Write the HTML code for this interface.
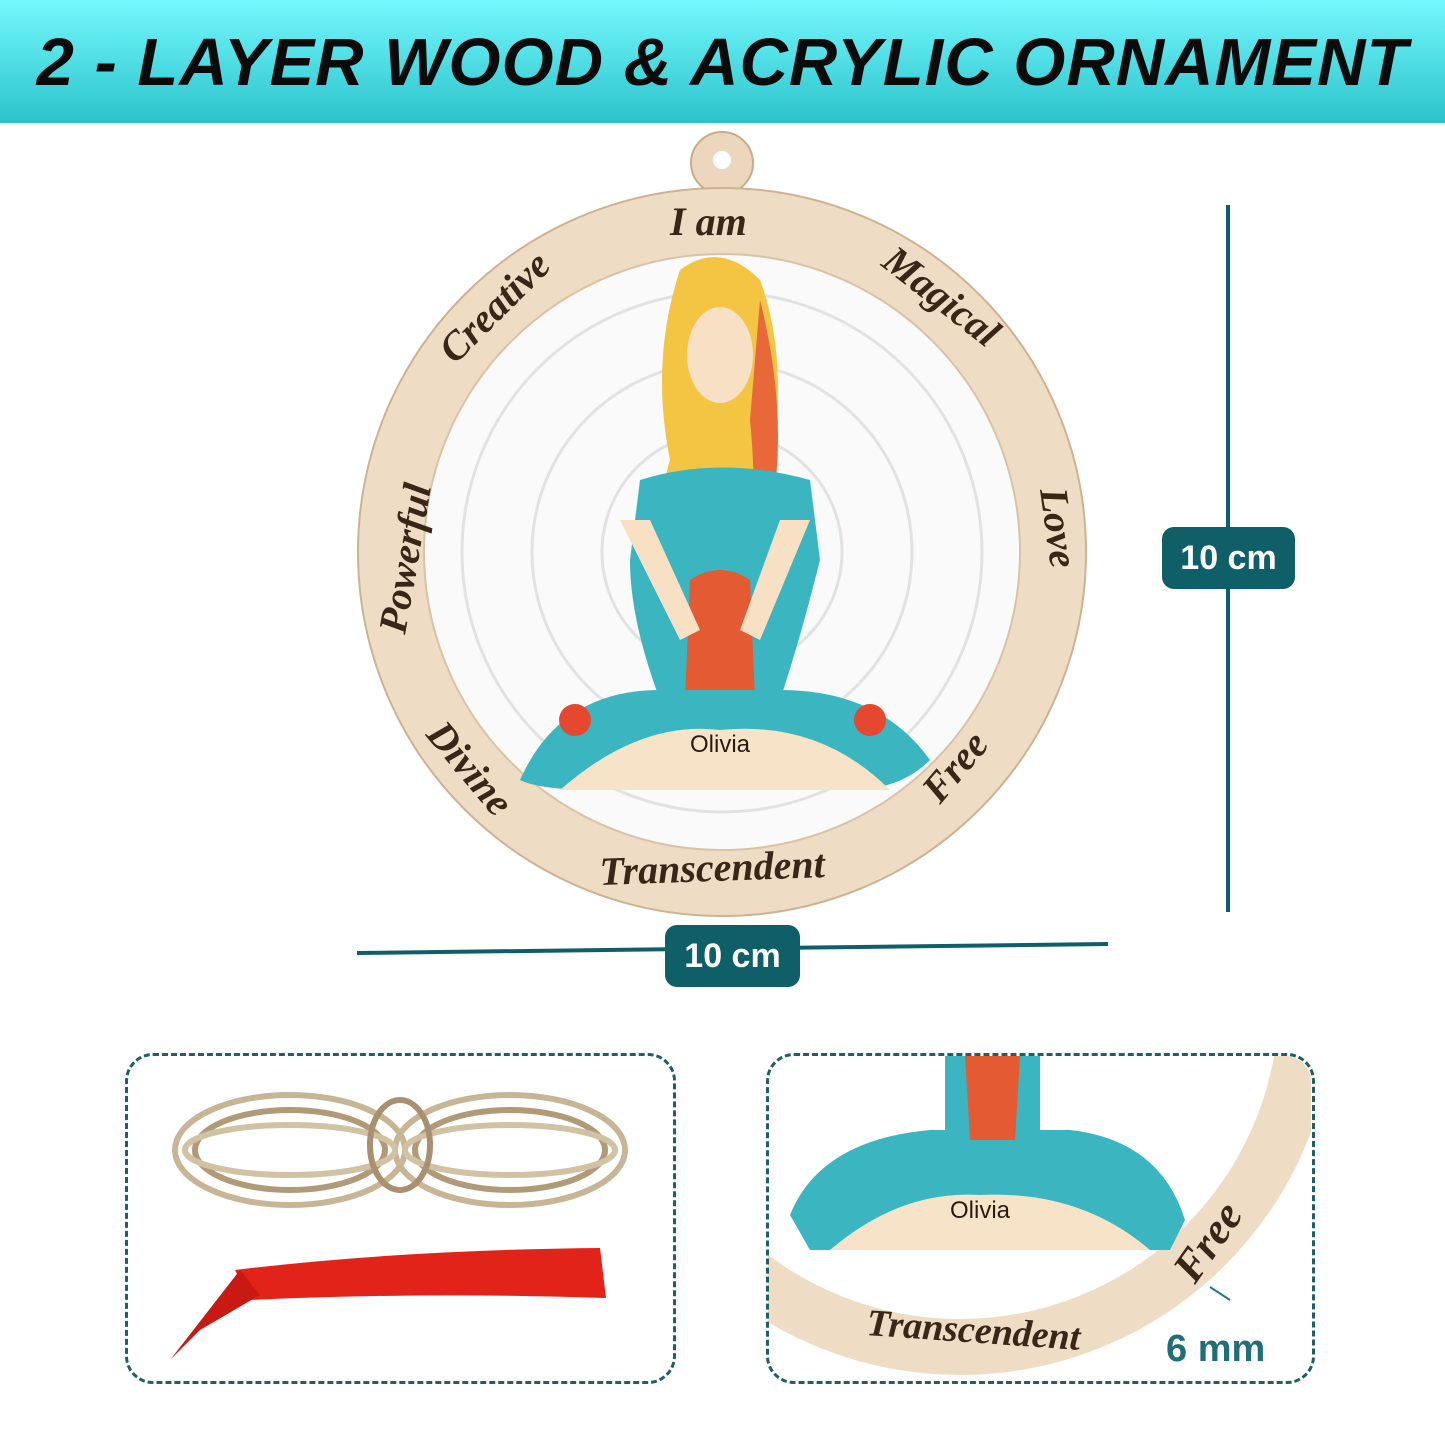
<!DOCTYPE html>
<html><head><meta charset="utf-8"><style>
html,body{margin:0;padding:0;width:1445px;height:1445px;overflow:hidden;background:#fff;font-family:"Liberation Sans",sans-serif}
.hdr{position:absolute;left:0;top:0;width:1445px;height:123px;background:linear-gradient(#74f8fd,#2bc3cb)}
.hdr div{position:absolute;left:0;width:1445px;top:24px;text-align:center;font-size:67px;font-weight:bold;font-style:italic;color:#0b0b0b;letter-spacing:1px}
.lbl{position:absolute;background:#0f5f68;color:#fff;font-weight:bold;font-size:34px;border-radius:12px;text-align:center}
.box{position:absolute;border:3px dashed #1f5f66;border-radius:28px}
</style></head><body>
<div class="hdr"><div>2 - LAYER WOOD &amp; ACRYLIC ORNAMENT</div></div>
<svg width="1445" height="1445" style="position:absolute;left:0;top:0">
<defs>
<clipPath id="rb"><rect x="768" y="1056" width="543" height="325" rx="26"/></clipPath>
</defs>
<circle cx="722" cy="163" r="31" fill="#ecd6bd" stroke="#c9ab8c" stroke-width="2"/>
<circle cx="722" cy="160" r="9" fill="#fff"/>
<circle cx="722" cy="552" r="364" fill="#efdcc5" stroke="#cdb293" stroke-width="2"/>
<circle cx="722" cy="552" r="298" fill="#fafafa" stroke="#d9c2a6" stroke-width="2"/>
<g fill="none" stroke="#e2e2e2" stroke-width="3">
<circle cx="722" cy="552" r="120"/><circle cx="722" cy="552" r="190"/><circle cx="722" cy="552" r="260"/>
<circle cx="722" cy="552" r="60"/>
</g>
<g font-family="Liberation Serif,serif" font-style="italic" font-weight="bold" font-size="40" fill="#3a2516">
<text x="670" y="235">I am</text>
<text transform="translate(880,265) rotate(38)">Magical</text>
<text transform="translate(1040,490) rotate(82)">Love</text>
<text transform="translate(940,805) rotate(-50)">Free</text>
<text transform="translate(600,885) rotate(-2)">Transcendent</text>
<text transform="translate(425,735) rotate(50)">Divine</text>
<text transform="translate(405,635) rotate(-80)">Powerful</text>
<text transform="translate(455,365) rotate(-45)">Creative</text>
</g>
<path d="M680,270 Q720,240 760,280 Q790,360 770,480 Q790,560 780,650 L700,650 Q650,520 670,460 Q650,360 680,270Z" fill="#f4c443"/>
<path d="M760,300 Q790,420 770,520 Q775,600 770,660 L745,660 Q760,520 750,420Z" fill="#e8683a"/>
<ellipse cx="720" cy="355" rx="33" ry="48" fill="#f7e0c4"/>
<path d="M640,480 Q720,455 810,480 L820,560 Q800,640 780,700 L660,700 Q630,620 630,560Z" fill="#3bb6c1"/>
<path d="M690,580 Q720,560 750,580 L755,700 L685,700Z" fill="#e45a32"/>
<path d="M620,520 L650,520 L700,630 L680,640Z" fill="#f7e0c4"/>
<path d="M810,520 L780,520 L740,630 L760,640Z" fill="#f7e0c4"/>
<path d="M520,780 Q560,690 660,690 L780,690 Q880,690 930,760 Q900,790 850,790 L600,790 Q540,790 520,780Z" fill="#3bb6c1"/>
<path d="M560,790 Q640,720 720,730 Q820,720 890,790Z" fill="#f7e3c8"/>
<circle cx="575" cy="720" r="16" fill="#e5482e"/><circle cx="870" cy="720" r="16" fill="#e5482e"/>
<text x="690" y="752" font-family="Liberation Sans,sans-serif" font-size="24" fill="#2a1a10">Olivia</text>
<line x1="1228" y1="205" x2="1228" y2="912" stroke="#0f5f68" stroke-width="4"/>
<line x1="357" y1="953" x2="1108" y2="944" stroke="#0f5f68" stroke-width="4"/>
<g fill="none" stroke="#c8b596" stroke-width="6">
<ellipse cx="290" cy="1150" rx="115" ry="55"/><ellipse cx="510" cy="1150" rx="115" ry="55"/>
<ellipse cx="290" cy="1150" rx="95" ry="40" stroke="#b09a78"/><ellipse cx="510" cy="1150" rx="95" ry="40" stroke="#b09a78"/>
<ellipse cx="290" cy="1150" rx="105" ry="25" stroke="#d2c2a4"/><ellipse cx="510" cy="1150" rx="105" ry="25" stroke="#d2c2a4"/>
<ellipse cx="400" cy="1145" rx="30" ry="45" stroke="#a89070"/>
</g>
<path d="M235,1270 Q400,1250 600,1248 L606,1298 Q420,1292 250,1300Z" fill="#e2231a"/>
<path d="M240,1270 L170,1360 L200,1330 L260,1295Z" fill="#c81a12"/>
<g clip-path="url(#rb)">
<circle cx="960" cy="1000" r="347" fill="none" stroke="#efdcc5" stroke-width="56"/>
<path d="M790,1215 Q820,1140 930,1130 L1070,1130 Q1160,1140 1185,1220 L1170,1250 L810,1250Z" fill="#3bb6c1"/>
<path d="M830,1250 Q900,1190 980,1195 Q1080,1190 1150,1250Z" fill="#f7e3c8"/>
<path d="M945,1056 L1040,1056 L1040,1135 L945,1135Z" fill="#3bb6c1"/>
<path d="M965,1056 L1020,1056 L1015,1140 L970,1140Z" fill="#e45a32"/>
<text x="950" y="1218" font-family="Liberation Sans,sans-serif" font-size="24" fill="#2a1a10">Olivia</text>
<text transform="translate(866,1335) rotate(4)" font-family="Liberation Serif,serif" font-style="italic" font-weight="bold" font-size="38" fill="#3a2516">Transcendent</text>
<text transform="translate(1195,1285) rotate(-55)" font-family="Liberation Serif,serif" font-style="italic" font-weight="bold" font-size="44" fill="#3a2516">Free</text>
</g>
<line x1="1210" y1="1287" x2="1230" y2="1300" stroke="#1f7a84" stroke-width="2"/>
</svg>
<div class="lbl" style="left:1162px;top:527px;width:133px;height:62px;line-height:62px">10 cm</div>
<div class="lbl" style="left:665px;top:925px;width:135px;height:62px;line-height:62px">10 cm</div>
<div class="box" style="left:125px;top:1053px;width:545px;height:325px"></div>
<div class="box" style="left:766px;top:1053px;width:543px;height:325px"></div>
<div style="position:absolute;left:1166px;top:1328px;font-size:38px;font-weight:bold;color:#1f6e78">6 mm</div>
</body></html>
